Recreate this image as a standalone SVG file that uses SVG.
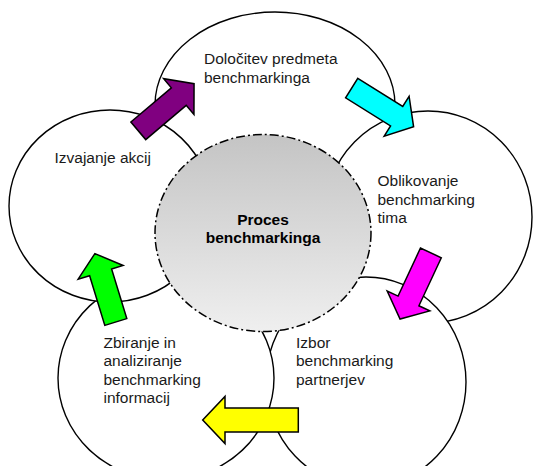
<svg xmlns="http://www.w3.org/2000/svg" width="533" height="466" viewBox="0 0 533 466">
  <defs>
    <linearGradient id="coreFill" x1="0" y1="0" x2="0" y2="1">
      <stop offset="0" stop-color="#c4c4c4"/>
      <stop offset="1" stop-color="#efefef"/>
    </linearGradient>
    <!-- block arrow pointing along +x, tail centre at origin -->
    <polygon id="arrow73" points="0,-11.5 53,-11.5 53,-23.5 73,0 53,23.5 53,11.5 0,11.5"/>
  </defs>
  <style>
    .phase { fill: #ffffff; stroke: #000000; stroke-width: 1.4; }
    .core { fill: url(#coreFill); stroke: #000000; stroke-width: 1.5; stroke-dasharray: 9 3 2 3; }
    .arrow { stroke: #000000; stroke-width: 1.5; stroke-linejoin: miter; }
    text { font-family: "Liberation Sans", Arial, sans-serif; font-size: 15.5px; fill: #1a1a1a; }
    .title { font-weight: bold; text-anchor: middle; fill: #000000; }
  </style>

  <rect width="533" height="466" fill="#ffffff"/>

  <!-- phase bubbles, back to front -->
  <g id="phase-dolocitev">
    <ellipse class="phase" cx="275" cy="105" rx="120" ry="93"/>
    <text x="204" y="64">Določitev predmeta</text>
    <text x="204" y="82.5">benchmarkinga</text>
  </g>
  <g id="phase-oblikovanje">
    <ellipse class="phase" cx="428" cy="217" rx="104" ry="106"/>
    <text x="377.5" y="186">Oblikovanje</text>
    <text x="377.5" y="204.5">benchmarking</text>
    <text x="377.5" y="223">tima</text>
  </g>
  <g id="phase-izbor">
    <ellipse class="phase" cx="366" cy="382" rx="100" ry="105"/>
    <text x="296" y="347.5">Izbor</text>
    <text x="296" y="366">benchmarking</text>
    <text x="296" y="384.5">partnerjev</text>
  </g>
  <g id="phase-zbiranje">
    <ellipse class="phase" cx="166" cy="378" rx="108" ry="102"/>
    <text x="103.5" y="347.5">Zbiranje in</text>
    <text x="103.5" y="366">analiziranje</text>
    <text x="103.5" y="384.5">benchmarking</text>
    <text x="103.5" y="403">informacij</text>
  </g>
  <g id="phase-izvajanje">
    <ellipse class="phase" cx="110" cy="206" rx="101" ry="96"/>
    <text x="54.5" y="163">Izvajanje akcij</text>
  </g>

  <!-- central process -->
  <g id="proces">
    <ellipse class="core" cx="263" cy="233" rx="108" ry="98.5"/>
    <text class="title" x="263" y="225">Proces</text>
    <text class="title" x="263" y="243">benchmarkinga</text>
  </g>

  <!-- cycle arrows -->
  <g id="connectors">
    <use href="#arrow73" class="arrow" fill="#800080" transform="translate(138.3,130.8) rotate(-40.2)"/>
    <use href="#arrow73" class="arrow" fill="#00ffff" transform="translate(351.7,88.1) rotate(32)"/>
    <use href="#arrow73" class="arrow" fill="#ff00ff" transform="translate(430.9,252.9) rotate(115)"/>
    <polygon class="arrow" fill="#ffff00" points="298.3,408 225,408 225,396.5 202.7,420 225,443.5 225,432 298.3,432"/>
    <use href="#arrow73" class="arrow" fill="#00ff00" transform="translate(115.8,322) rotate(-107) scale(0.98,1)"/>
  </g>
</svg>
